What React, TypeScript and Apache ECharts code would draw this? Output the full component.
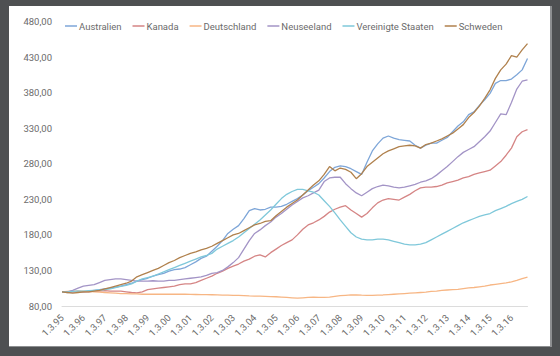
import React, { useEffect, useRef } from "react";
import * as echarts from "echarts";

const years = ["95","96","97","98","99","00","01","02","03","04","05","06","07","08","09","10","11","12","13","14","15","16"];
const quarterMonths = ["3", "6", "9", "12"];
const categories: string[] = [];
years.forEach((y) => quarterMonths.forEach((m) => categories.push(`1.${m}.${y}`)));

const australien = [
  100,99,100,101,100,101,102,103,
  104,105,106.5,108,110,112,115,117,
  119,122,124,126,129,131,132,134,
  138,142,147,150,157,164,172,182,
  188,193,203,214,217,215,216,219,
  219,220,223,227,231,236,242,247,
  252,260,269,275,277,276,273,269,
  265,282,298,308,316,319,316,314,
  313,312,306,302,306,309,309,313,
  317,325,333,339,349,353,362,370,
  379,393,397,397,399,405,412,428,
];
const kanada = [
  100,100,100,100,100,100,101,101,
  101.5,101,101,101,100,99,98.5,100,
  103,104,105,106,107,108,110,111,
  111,113,116,119,122,126,129,133,
  136,139,143,146,150,152,149,155,
  160,165,169,173,180,188,194,197,
  201,206,212,216,219,221,215,210,
  205,210,218,225,229,231,230,229,
  233,237,242,246,247,247,248,250,
  253,255,257,260,262,265,267,269,
  271,277,283,292,302,318,325,328,
];
const deutschland = [
  100,100.5,101,101,101,100.5,100,99.5,
  99,98.5,98,97.5,97.5,97,97,96.5,
  96.5,96.5,96.5,96.5,96.5,96.5,96.5,96.5,
  96.3,96.2,96,96,95.8,95.6,95.4,95.2,
  95,94.8,94.5,94.2,94,93.8,93.5,93.2,
  93,92.5,92,91.5,91,91.5,92,92.5,
  92,92,92.5,93.5,94.5,95,95.5,95.5,
  95.2,95,95,95.3,95.5,96,96.5,97,
  97.5,98,98.5,99,99.5,100.5,101,102,
  102.5,103,103.5,104.5,105.5,106,107,108,
  109.5,110.5,111.5,112.5,114,116,118.5,120.5,
];
const neuseeland = [
  100,100,102,105,108,109,110,113,
  116,117,118,118,117,116,115,115,
  115,115.5,115,115,116,116,117,118,
  119,120,121,123,126,127,130,135,
  141,148,160,172,182,187,193,198,
  205,210,216,222,227,232,235,239,
  243,255,260,261,261,252,245,239,
  235,240,245,248,250,249,247,246,
  247,249,251,254,256,259,264,270,
  276,283,290,296,300,304,311,318,
  326,338,350,349,366,385,396,398,
];
const vereinigteStaaten = [
  100,100,100.5,101,101,101.5,102,102.5,
  103,104,106,107.5,109,111,115,118,
  120,122,125,128,131,134,137,140,
  143,146,149,151,154,160,164,168,
  172,177,183,189,195,201,208,215,
  223,231,237,241,244,244,242,240,
  236,228,220,211,201,192,183,177,
  174,173,173,174,174,173,171,169,
  167,166,166,167,169,173,177,181,
  185,189,193,197,200,203,206,208,
  210,214,217,220,224,227,230,234,
];
const schweden = [
  100,99,98,99,100,100,101,102,
  104,106,108,110,112,115,121,124,
  127,130,133,137,141,144,148,151,
  154,156,159,161,164,168,172,176,
  180,182,186,190,194,196,199,200,
  207,213,219,224,229,236,243,250,
  256,265,276,270,274,272,268,259,
  266,276,282,288,294,298,301,304,
  305,306,305,302,307,309,312,315,
  319,323,329,335,345,352,361,372,
  384,400,412,420,432,430,440,449,
];

const seriesNames = ["Australien", "Kanada", "Deutschland", "Neuseeland", "Vereinigte Staaten", "Schweden"];
const seriesData = [australien, kanada, deutschland, neuseeland, vereinigteStaaten, schweden];
const seriesColors = ["#7ea6d8", "#d58585", "#f7b684", "#a394c6", "#7fc8da", "#b0814d"];

const FONT = "Roboto, 'Liberation Sans', sans-serif";

export default function App() {
  const ref = useRef<HTMLDivElement>(null);
  useEffect(() => {
    if (!ref.current) return;
    const chart = echarts.init(ref.current, undefined, { renderer: "svg" });
    chart.setOption({
      animation: false,
      backgroundColor: "transparent",
      textStyle: { fontFamily: FONT },
      legend: {
        left: 60,
        top: 16,
        icon: "rect",
        itemWidth: 12,
        itemHeight: 1.5,
        itemGap: 11,
        textStyle: { fontSize: 9.5, color: "#6b6b6b", fontFamily: FONT, padding: [0, 0, 0, -3] },
        data: seriesNames,
      },
      grid: { left: 62, right: 32.5, top: 21.5, bottom: 50 },
      xAxis: {
        type: "category",
        data: categories,
        boundaryGap: false,
        axisLine: { lineStyle: { color: "#dcdcdc", width: 1 } },
        axisTick: { show: false },
        axisLabel: {
          interval: 3,
          rotate: 45,
          fontSize: 9.5,
          color: "#6b6b6b",
          margin: 10,
          fontFamily: FONT,
        },
        splitLine: { show: false },
      },
      yAxis: {
        type: "value",
        min: 80,
        max: 480,
        interval: 50,
        axisLine: { show: false },
        axisTick: { show: false },
        splitLine: { show: false },
        axisLabel: {
          fontSize: 9.5,
          color: "#6b6b6b",
          margin: 10,
          fontFamily: FONT,
          formatter: (v: number) => v.toFixed(2).replace(".", ","),
        },
      },
      series: seriesNames.map((name, i) => ({
        name,
        type: "line",
        data: seriesData[i],
        symbol: "none",
        smooth: false,
        lineStyle: { width: 1.3, color: seriesColors[i] },
        itemStyle: { color: seriesColors[i] },
      })),
    });
    return () => chart.dispose();
  }, []);

  return (
    <div style={{ position: "fixed", left: 0, top: 0, width: 560, height: 356, background: "#4e5052" }}>
      <div
        style={{
          position: "absolute",
          left: 9,
          top: 6,
          width: 541,
          height: 340,
          background: "#ffffff",
          borderRight: "2px solid #8d8f91",
          borderBottom: "1px solid #8d8f91",
        }}
      />
      <div ref={ref} style={{ position: "absolute", left: 0, top: 0, width: 560, height: 356 }} />
    </div>
  );
}
